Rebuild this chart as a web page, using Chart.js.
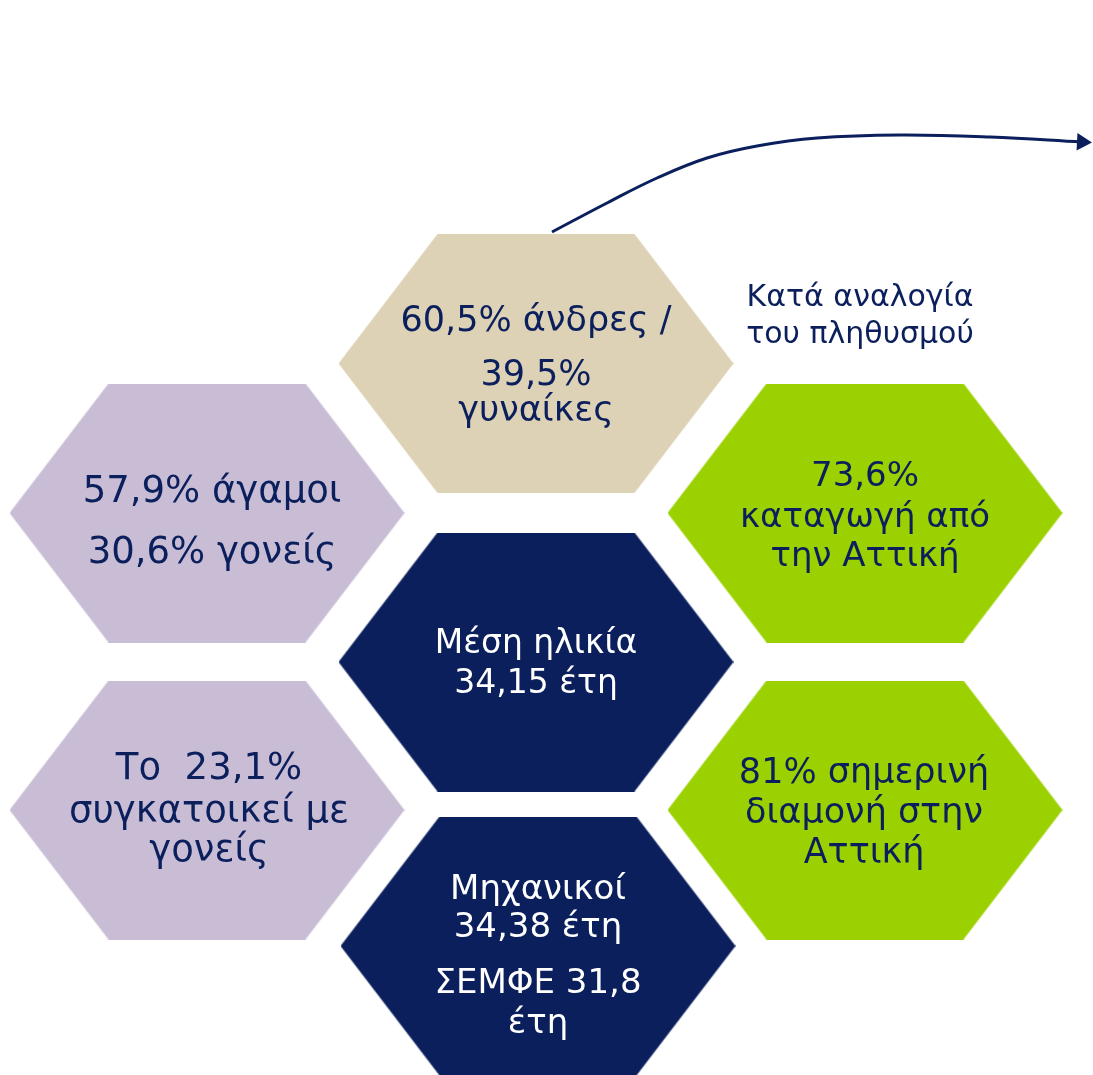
<!DOCTYPE html>
<html>
<head>
<meta charset="utf-8">
<script src="https://cdn.jsdelivr.net/npm/chart.js@4"></script>
<style>
  html, body { margin: 0; padding: 0; background: #fff; }
  #wrap { width: 1093px; height: 1075px; }
</style>
</head>
<body>
<div id="wrap"><canvas id="hex-chart"></canvas></div>
<script>
// hexagon centres (data units = page pixels)
const hexX = [536, 207, 865, 536, 207, 865, 538];
const hexY = [363.5, 513, 513, 662, 810, 810, 946];
const hexColors = ['#DDD2B6', '#C9BDD5', '#9BD100', '#0B1F5C', '#C9BDD5', '#9BD100', '#0B1F5C'];
const hexTexts = [
    ['60,5% άνδρες /', '39,5%', 'γυναίκες'],
    ['57,9% άγαμοι', '30,6% γονείς'],
    ['73,6%', 'καταγωγή από', 'την Αττική'],
    ['Μέση ηλικία', '34,15 έτη'],
    ['Το  23,1%', 'συγκατοικεί με', 'γονείς'],
    ['81% σημερινή', 'διαμονή στην', 'Αττική'],
    ['Μηχανικοί', '34,38 έτη', 'ΣΕΜΦΕ 31,8', 'έτη']
];
const noteText = ['Κατά αναλογία', 'του πληθυσμού'];

// arrow curve
const arrowX = [552, 607, 657, 707, 757, 817, 900, 990, 1082];
const arrowY = [232, 203, 178, 158, 146, 138, 135, 137, 142];

// layout (text baselines and sizes per hexagon)
const lineY = [
    [331, 385, 421],
    [502, 563],
    [486, 527, 566],
    [653, 693],
    [779, 822, 861],
    [783, 823, 863],
    [899, 937, 993, 1033]
];
const textX = [536, 212, 865, 536, 209, 864, 538];
const fontSizes = [35, 37, 34, 33, 37, 35, 34];
const noteX = 860, noteY = [306, 343];
const NAVY = '#0B1F5C';

function hexImage(color) {
    const w = 395, h = 259, inset = 99;
    const c = document.createElement('canvas');
    c.width = w; c.height = h;
    const g = c.getContext('2d');
    g.fillStyle = color;
    g.beginPath();
    g.moveTo(inset, 0);
    g.lineTo(w - inset, 0);
    g.lineTo(w, h / 2);
    g.lineTo(w - inset, h);
    g.lineTo(inset, h);
    g.lineTo(0, h / 2);
    g.closePath();
    g.fill();
    return c;
}

const textPlugin = {
    id: 'hexText',
    afterDatasetsDraw(chart) {
        const ctx = chart.ctx;
        const xs = chart.scales.x, ys = chart.scales.y;
        ctx.save();
        ctx.textAlign = 'center';
        ctx.textBaseline = 'alphabetic';
        hexTexts.forEach((lines, i) => {
            ctx.font = fontSizes[i] + 'px "DejaVu Sans"';
            ctx.fillStyle = hexColors[i] === NAVY ? '#ffffff' : NAVY;
            lines.forEach((t, j) => {
                ctx.fillText(t, xs.getPixelForValue(textX[i]), ys.getPixelForValue(lineY[i][j]));
            });
        });
        ctx.fillStyle = NAVY;
        ctx.font = '30px "DejaVu Sans"';
        noteText.forEach((t, j) => {
            ctx.fillText(t, xs.getPixelForValue(noteX), ys.getPixelForValue(noteY[j]));
        });
        ctx.restore();
    }
};

const data = {
    datasets: [
        {
            label: 'hexagons',
            data: hexX.map((x, i) => ({ x: x, y: hexY[i] })),
            pointStyle: hexColors.map(hexImage),
            pointRadius: 10,
            showLine: false
        },
        {
            label: 'arrow',
            data: arrowX.map((x, i) => ({ x: x, y: arrowY[i] })),
            showLine: true,
            borderColor: NAVY,
            borderWidth: 3,
            pointRadius: 0,
            tension: 0.4
        },
        {
            label: 'arrowhead',
            data: [{ x: arrowX[arrowX.length - 1], y: arrowY[arrowY.length - 1] }],
            pointStyle: 'triangle',
            rotation: 93,
            pointRadius: 10,
            backgroundColor: NAVY,
            borderColor: NAVY,
            borderWidth: 0
        }
    ]
};

const config = {
    type: 'scatter',
    data: data,
    options: {
        responsive: true,
        maintainAspectRatio: false,
        animation: false,
        layout: { padding: 0, autoPadding: false },
        plugins: {
            legend: { display: false },
            tooltip: { enabled: false }
        },
        scales: {
            x: { display: false, min: 0, max: 1093 },
            y: { display: false, min: 0, max: 1075, reverse: true }
        }
    },
    plugins: [textPlugin]
};

new Chart(document.getElementById('hex-chart'), config);
</script>
</body>
</html>
